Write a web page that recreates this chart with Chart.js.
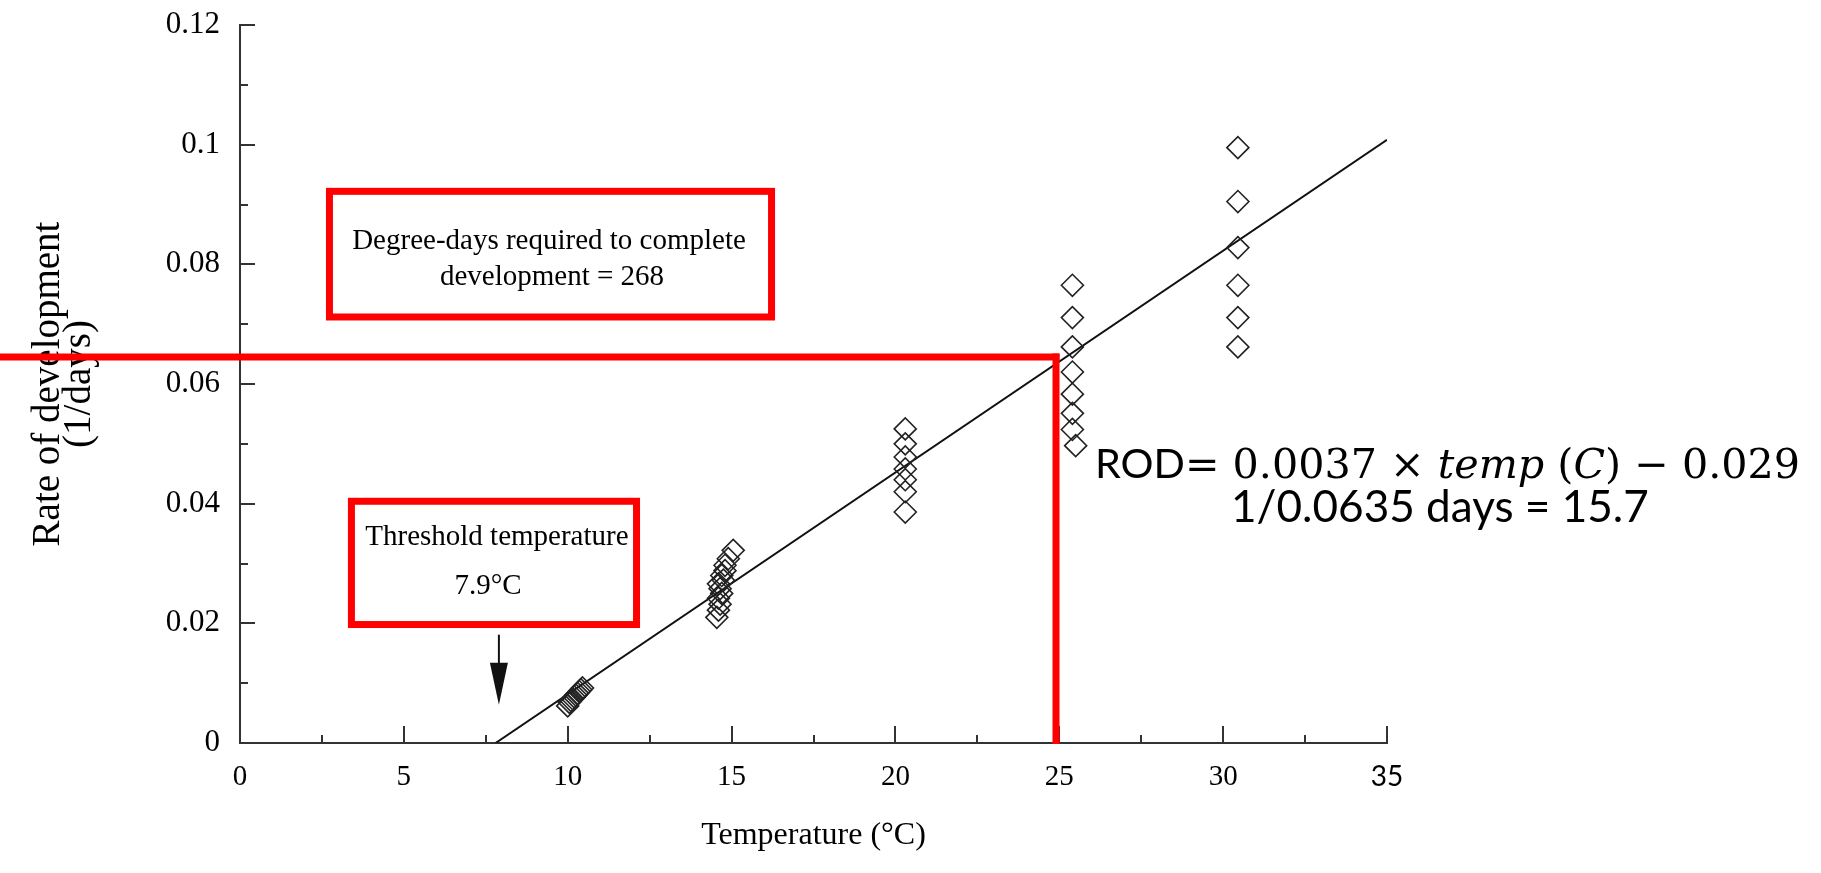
<!DOCTYPE html>
<html>
<head>
<meta charset="utf-8">
<script src="https://cdn.jsdelivr.net/npm/chart.js@4.4.1/dist/chart.umd.min.js"></script>
<style>
html,body{margin:0;padding:0;background:#ffffff;}
canvas{display:block;}
</style>
</head>
<body>
<canvas id="chart" width="1821" height="873"></canvas>
<script>
// ---- data ----
const temperature = [
  10.0, 10.05, 10.1, 10.15, 10.2, 10.25, 10.3, 10.35, 10.4, 10.45,
  14.55, 14.6, 14.65, 14.6, 14.7, 14.65, 14.6, 14.75, 14.7, 14.8, 14.8, 14.9, 15.05,
  20.3, 20.3, 20.3, 20.3, 20.3, 20.3, 20.3,
  25.4, 25.4, 25.4, 25.4, 25.4, 25.4, 25.4, 25.5,
  30.45, 30.45, 30.45, 30.45, 30.45, 30.45
];
const rateOfDevelopment = [
  0.0062, 0.0068, 0.0071, 0.0074, 0.0077, 0.0080, 0.0083, 0.0086, 0.0089, 0.0092,
  0.0210, 0.0222, 0.0232, 0.0242, 0.0250, 0.0258, 0.0266, 0.0272, 0.0280, 0.0288, 0.0297, 0.0308, 0.0322,
  0.0525, 0.0500, 0.0478, 0.0458, 0.0440, 0.0420, 0.0386,
  0.0765, 0.0711, 0.0662, 0.0620, 0.0583, 0.0551, 0.0524, 0.0497,
  0.0995, 0.0905, 0.0828, 0.0765, 0.0711, 0.0662
];
const fitLineTemp = [7.8, 35];
const fitLineRate = [0, 0.1008];
const xTickLabels = ['0', '5', '10', '15', '20', '25', '30', '35'];
const yTickLabels = ['0', '0.02', '0.04', '0.06', '0.08', '0.1', '0.12'];
const thresholdTemp = 7.9;
const guideTemp = 24.9;
const guideRate = 0.0645;
const degreeDaysLines = ['Degree-days required to complete', 'development = 268'];
const thresholdLines = ['Threshold temperature', '7.9°C'];
const equationLine2 = '1/0.0635 days = 15.7';

// ---- annotation placement (in data units) ----
const boxDegree = {x0: 2.73, x1: 16.22, y0: 0.0922, y1: 0.0712, textX: [9.43, 9.52], textY: [0.0839, 0.0778]};
const boxThreshold = {x0: 3.40, x1: 12.10, y0: 0.0404, y1: 0.0198, textX: [7.84, 7.57], textY: [0.0343, 0.0261]};
const arrowSpan = {from: 0.0181, to: 0.0064};

const SERIF = '"Liberation Serif", "Times New Roman", serif';

const points = temperature.map((t, i) => ({x: t, y: rateOfDevelopment[i]}));
const fitLine = fitLineTemp.map((t, i) => ({x: t, y: fitLineRate[i]}));

const annotationPlugin = {
  id: 'annotations',
  afterDatasetsDraw(chart) {
    const ctx = chart.ctx;
    const xs = chart.scales.x, ys = chart.scales.y;
    const X = v => xs.getPixelForValue(v), Y = v => ys.getPixelForValue(v);
    ctx.save();

    // inward tick marks
    ctx.strokeStyle = '#333';
    ctx.lineWidth = 2;
    ys.ticks.forEach(t => {
      const major = Math.round(t.value * 100) % 2 === 0;
      const py = Math.round(Y(t.value));
      ctx.beginPath();
      ctx.moveTo(xs.left, py);
      ctx.lineTo(xs.left + (major ? 15 : 8), py);
      ctx.stroke();
    });
    xs.ticks.forEach(t => {
      const major = Math.round(t.value * 10) % 50 === 0;
      const px = Math.round(X(t.value));
      ctx.beginPath();
      ctx.moveTo(px, ys.bottom);
      ctx.lineTo(px, ys.bottom - (major ? 17 : 8));
      ctx.stroke();
    });

    // red guide lines
    ctx.strokeStyle = '#ff0000';
    ctx.lineWidth = 7;
    ctx.lineCap = 'butt';
    ctx.beginPath();
    ctx.moveTo(0, Y(guideRate));
    ctx.lineTo(X(guideTemp) + 3.5, Y(guideRate));
    ctx.stroke();
    ctx.beginPath();
    ctx.moveTo(X(guideTemp), Y(guideRate) - 3.5);
    ctx.lineTo(X(guideTemp), Y(0) + 1);
    ctx.stroke();

    // red boxes
    [boxDegree, boxThreshold].forEach(b => {
      ctx.fillStyle = '#ffffff';
      ctx.fillRect(X(b.x0), Y(b.y0), X(b.x1) - X(b.x0), Y(b.y1) - Y(b.y0));
      ctx.strokeStyle = '#ff0000';
      ctx.lineWidth = 7;
      ctx.lineJoin = 'miter';
      ctx.strokeRect(X(b.x0), Y(b.y0), X(b.x1) - X(b.x0), Y(b.y1) - Y(b.y0));
    });

    // box texts
    ctx.fillStyle = '#000000';
    ctx.textAlign = 'center';
    ctx.textBaseline = 'middle';
    ctx.font = '29px ' + SERIF;
    degreeDaysLines.forEach((l, i) => ctx.fillText(l, X(boxDegree.textX[i]), Y(boxDegree.textY[i])));
    thresholdLines.forEach((l, i) => ctx.fillText(l, X(boxThreshold.textX[i]), Y(boxThreshold.textY[i])));

    // threshold arrow
    const ax = X(thresholdTemp);
    const yTop = Y(arrowSpan.from), yTip = Y(arrowSpan.to);
    ctx.strokeStyle = '#111';
    ctx.lineWidth = 2;
    ctx.beginPath();
    ctx.moveTo(ax, yTop);
    ctx.lineTo(ax, yTip - 38);
    ctx.stroke();
    ctx.fillStyle = '#111';
    ctx.beginPath();
    ctx.moveTo(ax - 9, yTip - 42);
    ctx.lineTo(ax + 9, yTip - 42);
    ctx.lineTo(ax, yTip);
    ctx.closePath();
    ctx.fill();

    // equation text
    drawFitted(ctx, [
      {text: 'ROD', font: 'Lato'},
      {text: '= ', font: '"DejaVu Serif"'},
      {text: '0.0037 × ', font: '"DejaVu Serif"'},
      {text: 'temp', font: '"DejaVu Serif"', style: 'italic'},
      {text: ' (', font: '"DejaVu Serif"'},
      {text: 'C', font: '"DejaVu Serif"', style: 'italic'},
      {text: ') − 0.029', font: '"DejaVu Serif"'}
    ], 1095, 478, 705);
    drawFitted(ctx, [{text: equationLine2, font: 'Lato'}], 1231, 522, 418);

    ctx.restore();
  }
};

function drawFitted(ctx, segs, left, baseline, targetW) {
  const base = 40;
  let w = 0;
  segs.forEach(s => {
    ctx.font = (s.style || 'normal') + ' ' + base + 'px ' + s.font;
    w += ctx.measureText(s.text).width;
  });
  const size = base * targetW / w;
  let x = left;
  ctx.fillStyle = '#000000';
  ctx.textAlign = 'left';
  ctx.textBaseline = 'alphabetic';
  segs.forEach(s => {
    ctx.font = (s.style || 'normal') + ' ' + size + 'px ' + s.font;
    ctx.fillText(s.text, x, baseline);
    x += ctx.measureText(s.text).width;
  });
}

new Chart(document.getElementById('chart'), {
  type: 'scatter',
  data: {
    datasets: [
      {
        type: 'line',
        label: 'Fit',
        data: fitLine,
        borderColor: '#111111',
        borderWidth: 2,
        pointRadius: 0,
        fill: false,
        tension: 0,
        order: 2
      },
      {
        label: 'Observed',
        data: points,
        pointStyle: 'rectRot',
        pointRadius: 11,
        pointBorderWidth: 1.6,
        pointBorderColor: '#222222',
        pointBackgroundColor: 'rgba(255,255,255,0)',
        borderColor: '#222222',
        backgroundColor: 'rgba(255,255,255,0)',
        order: 1
      }
    ]
  },
  options: {
    responsive: false,
    animation: false,
    devicePixelRatio: 1,
    layout: {padding: {top: 25, right: 434, bottom: 0, left: 0}},
    plugins: {legend: {display: false}, tooltip: {enabled: false}},
    scales: {
      x: {
        type: 'linear',
        min: 0,
        max: 35,
        afterFit: s => { s.height = 130; s.paddingLeft = 0; s.paddingRight = 0; },
        grid: {display: true, drawOnChartArea: false, drawTicks: false},
        border: {display: true, color: '#333', width: 2},
        ticks: {
          stepSize: 2.5,
          autoSkip: false,
          maxRotation: 0,
          padding: 17,
          color: '#000000',
          font: c => (c.tick && c.tick.value === 35) ? {family: 'Lato', size: 28} : {family: SERIF, size: 29},
          callback: v => (Math.round(v * 10) % 50 === 0 ? xTickLabels[Math.round(v / 5)] : '')
        },
        title: {
          display: true,
          text: 'Temperature (°C)',
          color: '#000000',
          font: {family: SERIF, size: 32},
          padding: {top: 0, bottom: 18}
        }
      },
      y: {
        type: 'linear',
        min: 0,
        max: 0.12,
        afterFit: s => { s.width = 240; s.paddingTop = 0; s.paddingBottom = 0; },
        grid: {display: true, drawOnChartArea: false, drawTicks: false},
        border: {display: true, color: '#333', width: 2},
        ticks: {
          stepSize: 0.01,
          autoSkip: false,
          padding: 20,
          color: '#000000',
          font: {family: SERIF, size: 31},
          callback: v => (Math.round(v * 100) % 2 === 0 ? yTickLabels[Math.round(v * 50)] : '')
        },
        title: {
          display: true,
          text: ['Rate of development', '(1/days)'],
          color: '#000000',
          font: {family: SERIF, size: 39, lineHeight: 0.78},
          padding: {top: 34, bottom: 0}
        }
      }
    }
  },
  plugins: [annotationPlugin]
});
</script>
</body>
</html>
